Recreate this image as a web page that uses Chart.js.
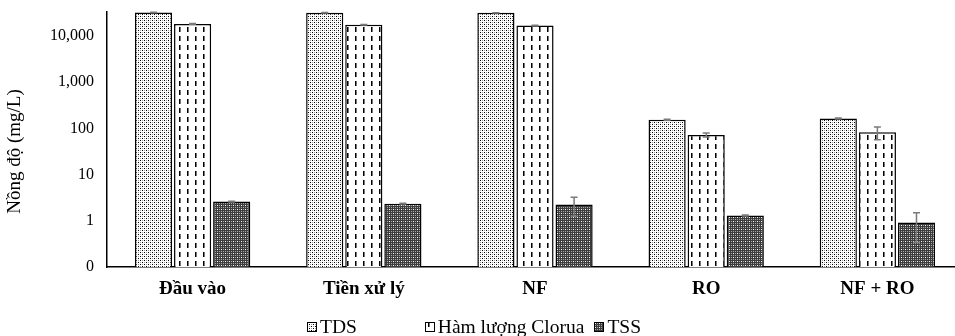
<!DOCTYPE html>
<html>
<head>
<meta charset="utf-8">
<script src="https://cdn.jsdelivr.net/npm/chart.js@4"></script>
<style>
  html, body { margin:0; padding:0; background:#fff; overflow:hidden; }
  #wrap { position:relative; width:955px; height:336px; overflow:hidden; }
  #c { position:absolute; left:0; top:0; }
  #legend { position:absolute; left:307px; top:314px; font-family:'Liberation Serif','Times New Roman',serif; font-size:19.5px; color:#000; white-space:nowrap; line-height:22px; }
  .item { display:inline-block; vertical-align:middle; }
  .item canvas { vertical-align:middle; margin-right:3px; position:relative; top:-1px; }
</style>
</head>
<body>
<div id="wrap">
  <canvas id="c" width="963" height="336"></canvas>
  <div id="legend"></div>
</div>
<script>
const categories = ['Đầu vào', 'Tiền xử lý', 'NF', 'RO', 'NF + RO'];
const seriesNames = ['TDS', 'Hàm lượng Clorua', 'TSS'];
const tds = [32000, 31800, 31600, 154, 164];
const chloride = [18200, 17500, 16800, 72, 82];
const tss = [2.6, 2.35, 2.25, 1.3, 0.92];
const tdsErr = [400, 300, 300, 4, 4];
const chlorideErr = [300, 300, 300, 7, 25];
const tssErr = [0.05, 0.05, 1.0, 0.03, 0.58];
const tickValues = [0.1, 1, 10, 100, 1000, 10000];
const tickLabels = ['0', '1', '10', '100', '1,000', '10,000'];
const yTitle = 'Nồng độ (mg/L)';

const FONT = "'Liberation Serif','Times New Roman',serif";

function makePattern(kind) {
  const t = document.createElement('canvas');
  const g = t.getContext('2d');
  if (kind === 'tds') {
    t.width = 4; t.height = 4;
    g.fillStyle = '#fff'; g.fillRect(0,0,4,4);
    g.fillStyle = '#000'; g.fillRect(0,0,1,1); g.fillRect(2,2,1,1);
    g.fillStyle = '#9a9a9a'; g.fillRect(2,0,1,1); g.fillRect(0,2,1,1);
  } else if (kind === 'cl') {
    t.width = 8; t.height = 9;
    g.fillStyle = '#fff'; g.fillRect(0,0,8,9);
    g.fillStyle = '#000'; g.fillRect(3,0,1,5);
    g.fillStyle = '#777'; g.fillRect(4,0,1,5);
  } else {
    t.width = 4; t.height = 4;
    g.fillStyle = '#3c3c3c'; g.fillRect(0,0,4,4);
    g.fillStyle = '#fff'; g.fillRect(1,1,1,1);
    g.fillStyle = '#a8a8a8'; g.fillRect(3,3,1,1); g.fillRect(3,1,1,1); g.fillRect(1,3,1,1);
  }
  return t;
}
const tiles = [makePattern('tds'), makePattern('cl'), makePattern('tss')];
const ctx = document.getElementById('c').getContext('2d');
const patterns = tiles.map(t => ctx.createPattern(t, 'repeat'));

const errs = [tdsErr, chlorideErr, tssErr];

const errorBars = {
  id: 'errorBars',
  afterDatasetsDraw(chart) {
    const c = chart.ctx, ys = chart.scales.y, area = chart.chartArea;
    c.save();
    c.beginPath(); c.rect(area.left, area.top - 2, area.right - area.left, area.bottom - area.top + 2); c.clip();
    c.strokeStyle = '#7a7a7a'; c.lineWidth = 1.5;
    chart.data.datasets.forEach((ds, i) => {
      const meta = chart.getDatasetMeta(i);
      meta.data.forEach((el, j) => {
        const v = ds.data[j], e = errs[i][j];
        const yt = ys.getPixelForValue(v + e);
        const yb = ys.getPixelForValue(Math.max(v - e, 0.1));
        const x = el.x, hw = 3.5;
        c.beginPath();
        c.moveTo(x, yt); c.lineTo(x, yb);
        c.moveTo(x - hw, yt); c.lineTo(x + hw, yt);
        c.moveTo(x - hw, yb); c.lineTo(x + hw, yb);
        c.stroke();
      });
    });
    c.restore();
  }
};

const axisTitle = {
  id: 'axisTitle',
  afterDraw(chart) {
    const c = chart.ctx, ys = chart.scales.y;
    c.save();
    c.translate(15, (ys.top + ys.bottom) / 2 + 12);
    c.rotate(-Math.PI / 2);
    c.font = '19px ' + FONT;
    c.fillStyle = '#000';
    c.textAlign = 'center';
    c.textBaseline = 'middle';
    c.fillText(yTitle, 0, 0);
    c.restore();
  }
};

const values = [tds, chloride, tss];
new Chart(ctx, {
  type: 'bar',
  data: {
    labels: categories,
    datasets: seriesNames.map((n, i) => ({
      label: n,
      data: values[i],
      backgroundColor: patterns[i],
      borderColor: '#000',
      borderWidth: 1.5,
      categoryPercentage: 0.685,
      barPercentage: 0.95
    }))
  },
  options: {
    responsive: false,
    animation: false,
    layout: { padding: { top: 12, right: 0, left: 0, bottom: 0 } },
    plugins: { legend: { display: false }, tooltip: { enabled: false } },
    scales: {
      x: {
        grid: { display: false, drawTicks: false },
        border: { display: true, color: '#000', width: 1.5 },
        ticks: { color: '#000', padding: 11, font: { family: FONT, size: 19, weight: 'bold' }, maxRotation: 0 },
        afterFit(s) { s.height = 69; s.paddingLeft = 0; s.paddingRight = 0; }
      },
      y: {
        type: 'logarithmic',
        min: 0.1,
        max: 33000,
        grid: { display: false, drawTicks: false },
        border: { display: true, color: '#000', width: 1.5 },
        title: { display: false },
        ticks: {
          color: '#000', padding: 13, font: { family: FONT, size: 16 },
          callback(v) { const k = tickValues.indexOf(v); return k >= 0 ? tickLabels[k] : ''; }
        },
        afterBuildTicks(s) { s.ticks = tickValues.map(v => ({ value: v })); },
        afterFit(s) { s.width = 107; s.paddingTop = 0; s.paddingBottom = 0; }
      }
    }
  },
  plugins: [errorBars, axisTitle]
});

// legend
const leg = document.getElementById('legend');
const gaps = [68, 10, 0];
seriesNames.forEach((n, i) => {
  const it = document.createElement('span');
  it.className = 'item';
  it.style.marginRight = gaps[i] + 'px';
  const b = document.createElement('canvas');
  b.width = 10; b.height = 10;
  const g = b.getContext('2d');
  g.fillStyle = g.createPattern(tiles[i], 'repeat');
  g.fillRect(0, 0, 10, 10);
  g.strokeStyle = '#000'; g.lineWidth = 1; g.strokeRect(0.5, 0.5, 9, 9);
  it.appendChild(b);
  it.appendChild(document.createTextNode(n));
  leg.appendChild(it);
});
</script>
</body>
</html>
